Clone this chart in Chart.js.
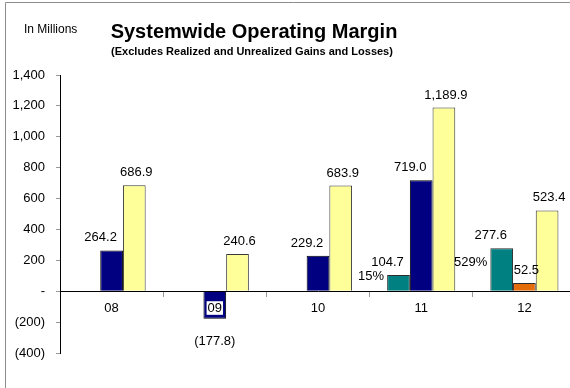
<!DOCTYPE html>
<html>
<head>
<meta charset="utf-8">
<script src="https://cdn.jsdelivr.net/npm/chart.js@4/dist/chart.umd.min.js"></script>
<style>
  html, body { margin: 0; padding: 0; background: #fff; overflow: hidden; }
  #wrap { width: 570px; height: 388px; overflow: hidden; }
  canvas { display: block; }
</style>
</head>
<body>
<div id="wrap"><canvas id="c" width="580" height="388"></canvas></div>
<script>
// Fiscal years shown on the category axis
const years = ['08', '09', '10', '11', '12'];

// Operating margin by component, in millions
const tealSeries   = [null, null, null, 104.7, 277.6];
const navySeries   = [264.2, -177.8, 229.2, 719.0, null];
const orangeSeries = [null, null, null, null, 52.5];
const yellowSeries = [686.9, 240.6, 683.9, 1189.9, 523.4];

// Growth notes printed beside the teal bars
const growthNotes = [null, null, null, '15%', '529%'];

// Value axis range and step
const axisMin = -400;
const axisMax = 1400;
const axisStep = 200;

const FONT = '"Liberation Sans", Arial, Helvetica, sans-serif';

function fmtNum(v, digits) {
  return Math.abs(v).toLocaleString('en-US', { minimumFractionDigits: digits, maximumFractionDigits: digits });
}
function fmtSigned(v, digits) {
  if (v === 0) return '-';
  return v < 0 ? '(' + fmtNum(v, digits) + ')' : fmtNum(v, digits);
}

// Frame and headings
const headerPlugin = {
  id: 'header',
  beforeDraw(chart) {
    const ctx = chart.ctx;
    ctx.save();
    ctx.strokeStyle = '#8c8c8c';
    ctx.lineWidth = 1;
    ctx.beginPath();
    ctx.moveTo(5.5, 400);
    ctx.lineTo(5.5, 2.5);
    ctx.lineTo(600, 2.5);
    ctx.stroke();
    ctx.restore();
  },
  afterDraw(chart) {
    const ctx = chart.ctx;
    ctx.save();
    ctx.fillStyle = '#000';
    ctx.textBaseline = 'alphabetic';
    ctx.textAlign = 'left';
    ctx.font = '12px ' + FONT;
    ctx.fillText('In Millions', 24, 33);
    ctx.textAlign = 'center';
    ctx.font = 'bold 20px ' + FONT;
    ctx.fillText('Systemwide Operating Margin', 254, 38);
    ctx.font = 'bold 11px ' + FONT;
    ctx.fillText('(Excludes Realized and Unrealized Gains and Losses)', 252, 55);
    ctx.restore();
  }
};

// Value labels over each bar, plus growth notes beside the teal bars
const valueLabelPlugin = {
  id: 'valueLabels',
  afterDatasetsDraw(chart) {
    const ctx = chart.ctx;
    ctx.save();
    ctx.font = '13px ' + FONT;
    ctx.fillStyle = '#000';
    ctx.textBaseline = 'middle';
    ctx.textAlign = 'center';
    chart.data.datasets.forEach((ds, di) => {
      const meta = chart.getDatasetMeta(di);
      meta.data.forEach((bar, i) => {
        const v = ds.data[i];
        if (v === null || v === undefined) return;
        if (v >= 0) {
          ctx.fillText(fmtSigned(v, 1), bar.x + (ds.labelShift || 0), bar.y - 12.5);
        } else {
          ctx.fillText(fmtSigned(v, 1), bar.x, bar.y + 23);
        }
      });
    });
    // growth notes, right-aligned against the teal bar
    const tealMeta = chart.getDatasetMeta(0);
    const noteDrop = [0, 0, 0, 1, 14];
    ctx.textAlign = 'right';
    growthNotes.forEach((note, i) => {
      if (!note) return;
      const bar = tealMeta.data[i];
      const left = bar.x - bar.width / 2;
      ctx.fillText(note, left - 3, bar.y + noteDrop[i]);
    });
    ctx.restore();
  }
};

new Chart(document.getElementById('c'), {
  type: 'bar',
  data: {
    labels: years,
    datasets: [
      { data: tealSeries, stack: 'a', backgroundColor: '#008080', borderColor: '#2b2b2b', borderWidth: 1, labelShift: -11 },
      { data: navySeries, stack: 'b', backgroundColor: '#000080', borderColor: '#000000', borderWidth: 1, labelShift: -11 },
      { data: orangeSeries, stack: 'b', backgroundColor: '#E46C0A', borderColor: '#2b2b2b', borderWidth: 1, labelShift: 2 },
      { data: yellowSeries, stack: 'c', backgroundColor: '#FFFF99', borderColor: '#3a3a3a', borderWidth: 1, labelShift: 2 }
    ]
  },
  options: {
    responsive: false,
    animation: false,
    devicePixelRatio: 1,
    categoryPercentage: 0.66,
    barPercentage: 1,
    layout: { padding: { top: 75, bottom: 35, left: 0, right: 4 } },
    plugins: {
      legend: { display: false },
      tooltip: { enabled: false },
      title: { display: false }
    },
    scales: {
      x: {
        type: 'category',
        stacked: true,
        position: { y: 0 },
        offset: true,
        grid: {
          display: true,
          drawOnChartArea: false,
          drawTicks: true,
          tickLength: 5,
          offset: true,
          color: '#999999'
        },
        border: { display: true, color: '#000000', width: 1, z: 1 },
        ticks: {
          z: 2,
          color: '#000',
          font: { family: FONT, size: 13 },
          padding: 4,
          maxRotation: 0,
          autoSkip: false,
          showLabelBackdrop: true,
          backdropColor: '#ffffff',
          backdropPadding: { top: -1, bottom: -1, left: 1, right: 1 }
        }
      },
      y: {
        stacked: true,
        min: axisMin,
        max: axisMax,
        afterFit(scale) { scale.width = 60; },
        grid: {
          display: true,
          drawOnChartArea: false,
          drawTicks: true,
          tickLength: 4,
          color: '#999999'
        },
        border: { display: true, color: '#000000', width: 1 },
        ticks: {
          stepSize: axisStep,
          color: '#000',
          font: { family: FONT, size: 13 },
          padding: 11,
          callback: (v) => fmtSigned(v, 0)
        }
      }
    }
  },
  plugins: [headerPlugin, valueLabelPlugin]
});
</script>
</body>
</html>
